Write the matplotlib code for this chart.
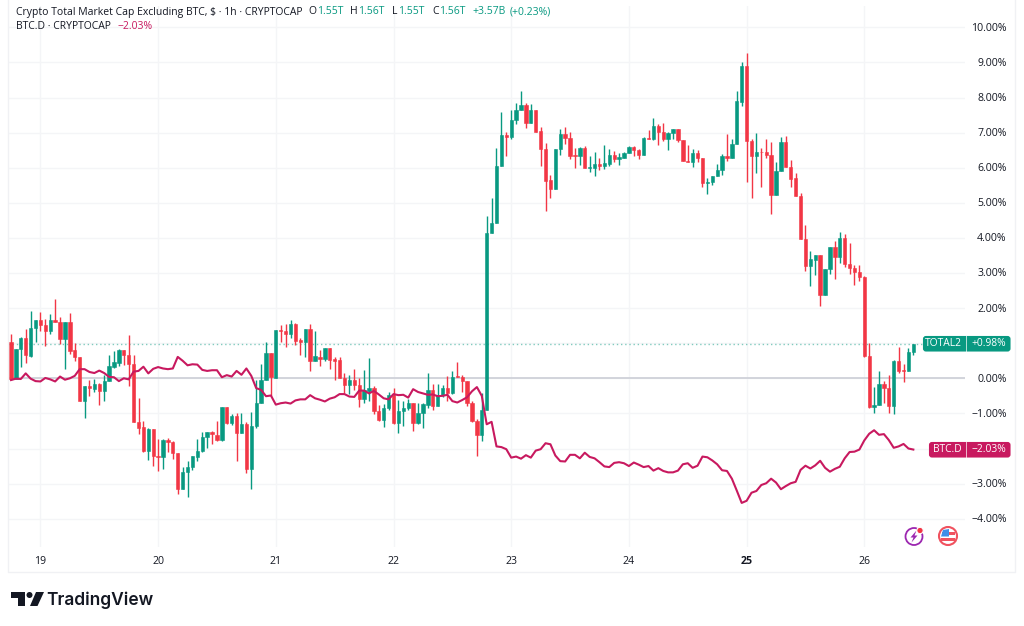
import matplotlib
matplotlib.use("Agg")
import matplotlib.pyplot as plt
from matplotlib.patches import Circle, FancyBboxPatch, Polygon, Rectangle

# candle values in %, one per hour
opens = [1.04,-0.03,0.84,1.15,0.64,1.43,1.67,1.53,1.35,1.66,
         1.61,1.11,1.60,0.80,0.61,-0.66,-0.22,-0.31,-0.16,-0.35,
         -0.08,0.33,0.45,0.80,0.66,0.40,-1.25,-1.39,-2.07,-1.44,
         -2.20,-2.25,-1.76,-1.82,-2.13,-3.16,-2.66,-2.52,-2.23,-2.08,
         -1.68,-1.53,-1.61,-1.77,-0.82,-1.28,-1.06,-1.55,-1.30,-2.59,
         -1.36,-0.69,-0.04,0.71,0.02,1.38,1.35,1.26,1.56,1.08,
         1.02,1.41,0.49,0.62,0.56,0.86,0.55,0.52,0.02,-0.18,
         -0.06,-0.19,-0.60,-0.35,-0.28,-0.92,-1.19,-0.85,-0.48,-1.26,
         -0.93,-0.86,-0.71,-1.28,-1.00,-0.76,-0.34,-0.79,-0.49,-0.27,
         -0.43,0.06,0.03,-0.08,-0.70,-1.23,-1.61,-0.90,4.15,4.43,
         6.06,6.93,6.87,7.36,7.64,7.79,7.26,7.64,7.05,6.53,
         5.64,5.39,6.52,6.96,6.86,6.35,6.33,6.57,5.98,6.00,
         6.11,6.05,6.11,6.36,6.26,6.29,6.42,6.60,6.51,6.36,
         6.84,6.82,7.18,7.03,6.83,6.98,7.09,6.78,6.20,6.16,
         6.42,6.27,5.56,5.59,5.76,5.94,6.34,6.27,6.67,7.88,
         8.89,6.77,6.33,6.46,6.45,6.36,5.21,5.90,6.74,6.03,
         5.70,5.20,3.96,3.21,3.38,3.51,2.38,3.11,3.74,3.45,
         4.00,3.26,3.14,3.04,2.90,0.63,-0.82,-0.77,-0.16,-0.29,
         -0.79,0.48,0.24,0.22,0.74]
closes = [-0.03,0.84,1.15,0.65,1.43,1.67,1.52,1.35,1.66,1.61,
          1.11,1.60,0.79,0.60,-0.66,-0.22,-0.29,-0.16,-0.35,-0.08,
          0.35,0.46,0.80,0.66,0.40,-1.25,-1.41,-2.07,-1.44,-2.20,
          -2.24,-1.76,-1.81,-2.14,-3.16,-2.66,-2.52,-2.22,-2.08,-1.68,
          -1.53,-1.60,-1.77,-0.81,-1.26,-1.06,-1.55,-1.30,-2.59,-1.36,
          -0.69,-0.04,0.71,0.03,1.38,1.36,1.26,1.56,1.06,1.02,
          1.41,0.49,0.63,0.56,0.86,0.52,0.50,0.02,-0.18,-0.06,
          -0.19,-0.60,-0.33,-0.28,-0.93,-1.19,-0.85,-0.48,-1.26,-0.92,
          -0.85,-0.71,-1.28,-1.00,-0.74,-0.34,-0.79,-0.48,-0.27,-0.43,
          0.05,0.04,-0.08,-0.71,-1.23,-1.61,-0.90,4.15,4.43,6.06,
          6.93,6.88,7.36,7.64,7.79,7.26,7.64,7.03,6.52,5.63,
          5.39,6.52,6.96,6.86,6.33,6.33,6.57,5.98,6.01,6.11,
          6.05,6.12,6.36,6.25,6.30,6.42,6.60,6.51,6.36,6.84,
          6.82,7.18,7.03,6.83,6.98,7.09,6.78,6.20,6.16,6.42,
          6.27,5.56,5.59,5.76,5.94,6.34,6.27,6.67,7.89,8.89,
          6.77,6.33,6.46,6.44,6.36,5.21,5.91,6.74,6.03,5.69,
          5.20,3.96,3.21,3.39,3.51,2.38,3.12,3.74,3.45,4.00,
          3.26,3.14,3.04,2.90,0.63,-0.82,-0.77,-0.16,-0.29,-0.79,
          0.48,0.22,0.22,0.74,0.98]
highs = [1.27,0.84,1.17,1.40,1.92,1.67,1.88,1.68,1.83,2.25,
         1.74,1.60,1.86,1.00,0.61,-0.22,-0.05,-0.02,-0.13,0.09,
         0.67,0.77,0.83,0.81,1.22,0.66,-0.57,-1.23,-1.42,-1.44,
         -1.72,-1.74,-1.71,-1.79,-2.13,-2.52,-2.37,-2.22,-1.73,-1.54,
         -1.53,-1.49,-1.22,-0.81,-0.82,-1.03,-1.00,-0.98,-1.25,-0.95,
         -0.05,0.41,1.02,0.71,1.38,1.52,1.54,1.66,1.57,1.16,
         1.41,1.55,1.35,0.81,0.86,0.86,0.62,0.62,0.14,0.10,
         0.26,0.00,0.25,0.57,-0.22,-0.75,-0.73,-0.39,-0.28,-0.62,
         -0.64,-0.60,-0.71,-0.71,-0.71,0.14,-0.16,-0.16,-0.19,0.07,
         0.22,0.47,0.09,-0.08,-0.66,-1.16,-0.41,4.62,5.13,6.55,
         7.60,7.03,7.64,7.83,8.19,7.85,7.82,7.64,7.17,6.70,
         5.79,6.52,7.09,7.15,7.01,6.57,6.60,6.63,6.33,6.44,
         6.27,6.64,6.52,6.48,6.43,6.46,6.62,6.63,6.52,6.87,
         7.07,7.41,7.25,7.26,7.03,7.09,7.09,6.79,6.65,6.53,
         6.51,6.29,5.72,5.76,6.11,6.38,6.96,6.82,8.18,9.02,
         9.26,6.81,6.98,6.57,6.81,6.72,6.16,6.88,6.90,6.22,
         5.84,5.27,4.37,3.63,3.51,3.51,3.12,3.74,3.92,4.16,
         4.11,3.85,3.23,3.23,2.92,1.00,-0.24,0.22,-0.09,0.09,
         0.52,0.88,0.40,0.85,0.98]
lows = [-0.05,-0.03,0.33,0.45,0.61,1.04,1.36,0.92,1.25,1.61,
        0.98,0.26,0.69,0.49,-0.66,-1.13,-0.50,-0.40,-0.76,-0.64,
        -0.08,0.28,0.35,0.38,-0.22,-1.25,-1.59,-2.09,-2.33,-2.49,
        -2.64,-2.57,-2.09,-2.30,-3.29,-3.16,-3.39,-2.61,-2.36,-2.10,
        -1.99,-1.87,-1.78,-1.80,-1.29,-1.33,-2.35,-1.57,-2.69,-3.15,
        -1.42,-0.69,-0.04,-0.50,0.02,1.04,0.90,1.14,0.95,0.66,
        0.62,0.21,0.49,0.36,0.49,0.27,-0.05,0.00,-0.43,-0.45,
        -0.33,-0.81,-0.71,-0.64,-1.03,-1.23,-1.40,-0.90,-1.30,-1.55,
        -1.36,-0.90,-1.51,-1.30,-1.41,-0.84,-0.90,-0.79,-0.53,-0.66,
        -0.45,0.04,-0.38,-0.78,-1.24,-2.21,-1.78,-0.90,4.15,4.43,
        6.06,6.33,6.82,7.24,7.64,7.14,7.26,7.03,6.05,4.78,
        5.15,5.39,6.36,6.68,6.24,5.98,6.09,5.98,5.87,5.75,
        5.94,5.96,6.05,6.15,6.08,6.27,6.41,6.32,6.25,6.36,
        6.81,6.79,6.65,6.77,6.50,6.82,6.73,6.19,6.15,6.03,
        6.17,5.46,5.25,5.52,5.75,5.79,6.20,6.27,6.67,7.76,
        5.60,5.15,5.84,5.44,6.29,4.67,5.21,5.90,6.03,5.46,
        5.20,3.96,3.07,2.64,2.94,2.06,2.38,2.96,2.83,3.28,
        3.16,2.96,2.66,2.78,0.60,-0.84,-0.98,-0.77,-0.71,-0.98,
        -1.01,0.14,-0.10,0.22,0.65]

# BTC.D line in %, same hours
btc_d = [-0.05,-0.01,-0.02,0.14,-0.01,-0.08,-0.09,0.01,-0.03,-0.09,
         0.05,-0.04,0.00,0.07,0.26,0.26,0.18,0.15,0.22,0.15,
         0.04,0.03,-0.08,0.00,-0.03,0.19,0.21,0.33,0.14,0.27,
         0.32,0.28,0.26,0.28,0.61,0.50,0.37,0.40,0.39,0.24,
         0.21,0.23,0.23,0.03,0.09,0.05,0.21,0.10,0.28,0.07,
         -0.28,-0.33,-0.51,-0.49,-0.75,-0.71,-0.69,-0.72,-0.63,-0.60,
         -0.60,-0.48,-0.57,-0.61,-0.66,-0.58,-0.54,-0.45,-0.45,-0.52,
         -0.53,-0.35,-0.35,-0.43,-0.36,-0.46,-0.57,-0.60,-0.45,-0.48,
         -0.47,-0.55,-0.31,-0.39,-0.43,-0.47,-0.46,-0.51,-0.50,-0.47,
         -0.65,-0.69,-0.62,-0.54,-0.37,-0.25,-0.50,
         -1.31,-1.24,-1.94,-1.96,-2.02,-2.26,-2.23,-2.29,-2.19,-2.26,
         -2.06,-2.02,-1.85,-1.88,-2.20,-2.36,-2.37,-2.18,-2.18,-2.28,
         -2.12,-2.24,-2.28,-2.39,-2.51,-2.53,-2.41,-2.39,-2.42,-2.50,
         -2.40,-2.46,-2.53,-2.50,-2.63,-2.56,-2.64,-2.68,-2.68,-2.63,
         -2.45,-2.42,-2.55,-2.49,-2.23,-2.25,-2.34,-2.45,-2.62,-2.64,
         -2.86,-3.20,-3.55,-3.49,-3.26,-3.21,-3.04,-2.99,-2.86,-2.97,
         -3.16,-3.07,-2.99,-2.95,-2.61,-2.49,-2.57,-2.48,-2.35,-2.55,
         -2.66,-2.58,-2.52,-2.28,-2.10,-2.09,-2.03,-1.77,-1.58,-1.48,
         -1.61,-1.59,-1.76,-1.98,-1.94,-1.87,-2.00,-2.03]

day_pos = [6, 30, 54, 78, 102, 126, 150, 174]
day_labels = ["19", "20", "21", "22", "23", "24", "25", "26"]
grid_ticks = [10, 9, 8, 7, 6, 5, 4, 3, 2, 1, 0, -1, -2, -3, -4]
# 1% and -2% sit under the two value tags, the reference shows no label there
label_ticks = [10, 9, 8, 7, 6, 5, 4, 3, 2, 0, -1, -3, -4]

GREEN = "#089981"
RED = "#f23645"
PINK = "#c8195f"
GRID = "#f4f5f7"
TEXT = "#131722"
FONT = "Open Sans"

plt.rcParams["font.family"] = FONT
W, H = 1024, 626
fig = plt.figure(figsize=(W / 100, H / 100), dpi=100, facecolor="white")

# pane sits between these pixels
left, right, top, bottom = 8, 965, 6, 547
ax = fig.add_axes([left / W, 1 - bottom / H, (right - left) / W, (bottom - top) / H])
ax.set_xlim((left - 11) / 4.904, (right - 11) / 4.904)
ax.set_ylim((378.3 - bottom) / 35.1, (378.3 - top) / 35.1)
for s in ax.spines.values():
    s.set_visible(False)

ax.set_xticks(day_pos)
ax.set_xticklabels(day_labels)
ax.set_yticks(grid_ticks)
ax.set_yticklabels([])
ax.tick_params(length=0, labelbottom=False)
ax.grid(True, color=GRID, lw=1)
ax.set_axisbelow(True)

ax.axhline(0, color="#cfd1d9", lw=1.3, zorder=1)
ax.axhline(closes[-1], color=GREEN, lw=1, ls=(0, (1, 2)), alpha=0.5, zorder=1)

xs = list(range(len(closes)))
colors = [GREEN if c >= o else RED for o, c in zip(opens, closes)]
ax.vlines(xs, lows, highs, colors=colors, lw=1, zorder=2)
ax.bar(xs, [abs(c - o) for o, c in zip(opens, closes)], bottom=[min(o, c) for o, c in zip(opens, closes)],
       width=0.68, color=colors, edgecolor=colors, lw=0.4, zorder=3)
ax.plot(range(len(btc_d)), btc_d, color=PINK, lw=1.5, zorder=4, solid_joinstyle="round")

# everything else is laid out in pixels
ov = fig.add_axes([0, 0, 1, 1], zorder=5)
ov.set_xlim(0, W)
ov.set_ylim(H, 0)
ov.axis("off")
ov.patch.set_alpha(0)

# outer frame
ov.plot([8, 8, 1015, 1015], [0, 572, 572, 0], color="#f0f1f4", lw=1)

# price scale and time scale labels
for p in label_ticks:
    txt = f"{p:.2f}%".replace("-", "\u2212")
    ov.text(1006.5, 379.3 - p * 35.1, txt, ha="right", va="center", fontsize=7.6, color=TEXT)
for pos, lab in zip(day_pos, day_labels):
    ov.text(11 + pos * 4.904, 561, lab, ha="center", va="center", fontsize=7.6, color=TEXT,
            fontweight="bold" if lab == "25" else "normal")

# header lines
fs = 7.45
ov.text(16, 12, "Crypto Total Market Cap Excluding BTC, $ \u00b7 1h \u00b7 CRYPTOCAP", va="center", fontsize=fs, color=TEXT)
for x, t in [(308, "O"), (350, "H"), (392, "L"), (432, "C")]:
    ov.text(x, 12, t, va="center", fontsize=fs, color=TEXT)
for x, t in [(317, "1.55T"), (358, "1.56T"), (398, "1.55T"), (439, "1.56T"), (472, "+3.57B"), (510, "(+0.23%)")]:
    ov.text(x, 12, t, va="center", fontsize=fs, color=GREEN)
ov.text(16, 26.5, "BTC.D \u00b7 CRYPTOCAP", va="center", fontsize=fs, color=TEXT)
ov.text(117, 26.5, "\u22122.03%", va="center", fontsize=fs, color=PINK)


def tag(x0, y0, name, value, color):
    ov.add_patch(FancyBboxPatch((x0 + 1, y0 + 1), 1010.5 - x0 - 2, 13.5, boxstyle="round,pad=0,rounding_size=2",
                                fc=color, ec=color, lw=1.5))
    ov.plot([966, 966], [y0, y0 + 15.5], color="white", lw=0.7, alpha=0.7)
    ov.text(962, y0 + 8, name, ha="right", va="center", fontsize=7.4, color="white")
    ov.text(1006.5, y0 + 8, value, ha="right", va="center", fontsize=7.4, color="white")


tag(923, 336, "TOTAL2", "+0.98%", GREEN)
tag(929, 442, "BTC.D", "\u22122.03%", PINK)

# bolt icon
ov.add_patch(Circle((914, 536.5), 8.5, fc="white", ec="#9c27b0", lw=1.3))
ov.add_patch(Polygon([(916.5, 530.5), (910.5, 537.5), (913.5, 537.5), (911.5, 542.5), (917.5, 535.5), (914.5, 535.5)],
                     fc="#9c27b0", ec="none"))
ov.add_patch(Circle((920, 530.5), 3.2, fc=RED, ec="white", lw=0.8))

# flag icon
ov.add_patch(Circle((948, 536), 9, fc="white", ec="#f0525f", lw=1.5))
ov.add_patch(Rectangle((942, 532), 13, 2.5, fc="#f0525f", ec="none"))
ov.add_patch(Rectangle((941, 538), 14, 3, fc="#f0525f", ec="none"))
ov.add_patch(Polygon([(943, 530), (949, 529), (949, 536.5), (941, 536.5)], fc="#3f8fe8", ec="none"))

# TradingView logo
ov.add_patch(Polygon([(11, 592), (25, 592), (25, 606), (18, 606), (18, 598), (11, 598)], fc=TEXT, ec="none"))
ov.add_patch(Circle((29.5, 595), 3, fc=TEXT, ec="none"))
ov.add_patch(Polygon([(30, 606), (36, 592), (44, 592), (37.5, 606)], fc=TEXT, ec="none"))
ov.text(46.5, 600, "TradingView", va="center", fontsize=12.5, color=TEXT, fontweight="semibold", family="Inter")

fig.savefig("out.png", dpi=100)
